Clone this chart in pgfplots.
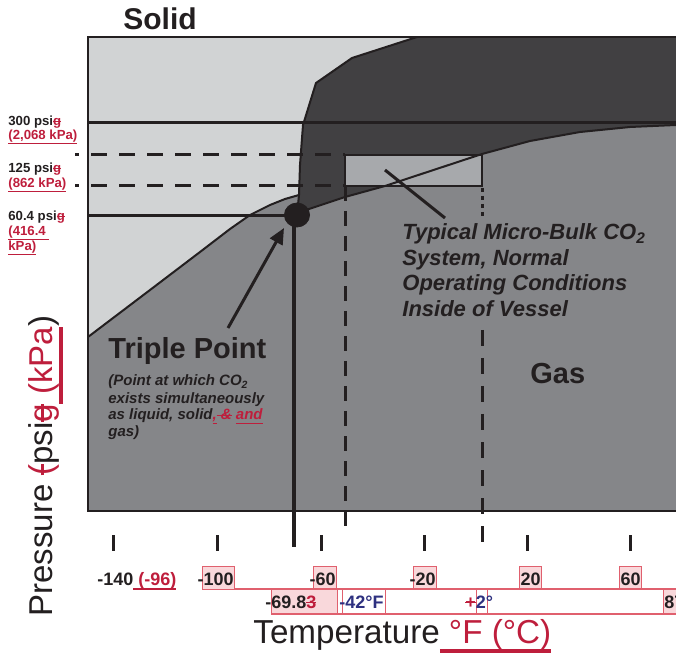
\documentclass[border=0pt]{standalone}
\usepackage{pgfplots}
\pgfplotsset{compat=1.18}
\usetikzlibrary{arrows.meta}
\usepackage{fontspec}
\setmainfont{Liberation Sans}

\definecolor{tk}{HTML}{231F20}
\definecolor{rd}{HTML}{BE1E3C}
\definecolor{nv}{HTML}{2E3180}
\definecolor{pk}{HTML}{F9D8DB}
\definecolor{pkb}{HTML}{E0606E}
\definecolor{solidc}{HTML}{D1D3D4}
\definecolor{liqc}{HTML}{414042}
\definecolor{gasc}{HTML}{858689}
\definecolor{boxc}{HTML}{A7A9AC}

% track-change marks: inserted (underlined) and deleted (struck) text
\newcommand{\ins}[1]{\textcolor{rd}{\sbox0{#1}\rlap{\usebox0}\rule[-0.3em]{\wd0}{0.11em}}}
\newcommand{\del}[1]{\textcolor{rd}{\sbox0{#1}\rlap{\usebox0}\rule[0.27em]{\wd0}{0.09em}}}

\tikzset{
  lbl/.style={anchor=base west, inner sep=0pt, text=tk},
  ln/.style={draw=tk, line width=1.5pt},
}

\begin{document}
\begin{tikzpicture}
\begin{axis}[
  scale only axis, width=338pt, height=329pt,
  xmin=0, xmax=676, ymin=0, ymax=658, y dir=reverse,
  hide axis, clip=false,
]
% regions
\addplot[fill=gasc, draw=none] coordinates {(88,37)(676,37)(676,511)(88,511)} -- cycle;
\addplot[fill=solidc, draw=none] coordinates {(88,37)(417,37)(352,58)(316,83)(303,125)(300,165)(299,195)
  (285,199)(270,205)(250,215)(230,229)(200,252)(150,290)(88,337)} -- cycle;
\addplot[fill=liqc, draw=none] coordinates {(417,37)(676,37)(676,125)(630,127)(580,132)(530,141)(482,154)(385,186)(345,197)(297,213)
  (299,195)(300,165)(303,125)(316,83)(352,58)} -- cycle;
% operating box
\addplot[fill=boxc, draw=tk, line width=1pt] coordinates {(345,155)(482,155)(482,186)(345,186)} -- cycle;
% phase boundaries
\addplot[draw=tk, line width=1pt] coordinates {(88,337)(150,290)(200,252)(230,229)(250,215)(270,205)(285,199)(299,195)};
\addplot[draw=tk, line width=1pt] coordinates {(297,213)(345,197)(385,186)(482,154)(530,141)(580,132)(630,127)(676,125)};
\addplot[draw=tk, line width=1pt] coordinates {(297,215)(299,195)(300,165)(303,125)(316,83)(352,58)(417,37)};
% frame
\addplot[draw=tk, line width=1.2pt] coordinates {(676,37)(88,37)(88,511)(676,511)};
% pressure lines
\addplot[ln] coordinates {(88,123)(676,123)};
\addplot[ln] coordinates {(88,216)(296,216)};
\addplot[ln, dash pattern=on 8pt off 6pt, dash phase=6pt] coordinates {(75,155)(345,155)};
\addplot[ln, dash pattern=on 8pt off 6pt, dash phase=6pt] coordinates {(75,186)(345,186)};
% vertical lines
\addplot[draw=tk, line width=1.8pt] coordinates {(294,215)(294,547)};
\addplot[ln, dash pattern=on 7.5pt off 5pt] coordinates {(345,186)(345,535)};
\addplot[ln, dash pattern=on 2pt off 2pt] coordinates {(482,188)(482,217)};
\addplot[ln, dash pattern=on 8pt off 6pt] coordinates {(482,330)(482,545)};
% ticks
\addplot[ln] coordinates {(113,535)(113,551)};
\addplot[ln] coordinates {(217,535)(217,551)};
\addplot[ln] coordinates {(321,535)(321,551)};
\addplot[ln] coordinates {(424,535)(424,551)};
\addplot[ln] coordinates {(527,535)(527,551)};
\addplot[ln] coordinates {(630,535)(630,551)};
% triple point and pointers
\addplot[only marks, mark=*, mark size=6pt, color=tk, mark options={xscale=1.05}] coordinates {(297,215)};
\addplot[ln, -{Triangle[length=8pt,width=7pt]}] coordinates {(228,328)(284,228)};
\addplot[ln] coordinates {(385,170)(445,218)};
% highlight boxes under tick labels
\addplot[fill=pk, draw=pkb, line width=0.5pt] coordinates {(202,566)(234,566)(234,589)(202,589)} -- cycle;
\addplot[fill=pk, draw=pkb, line width=0.5pt] coordinates {(313,566)(336,566)(336,589)(313,589)} -- cycle;
\addplot[fill=pk, draw=pkb, line width=0.5pt] coordinates {(413,566)(436,566)(436,589)(413,589)} -- cycle;
\addplot[fill=pk, draw=pkb, line width=0.5pt] coordinates {(519,566)(541,566)(541,589)(519,589)} -- cycle;
\addplot[fill=pk, draw=pkb, line width=0.5pt] coordinates {(619,566)(641,566)(641,589)(619,589)} -- cycle;
\addplot[fill=pk, draw=pkb, line width=0.5pt] coordinates {(271,589)(337,589)(337,614)(271,614)} -- cycle;
\addplot[fill=white, draw=pkb, line width=0.5pt] coordinates {(342,589)(385,589)(385,614)(342,614)} -- cycle;
\addplot[fill=white, draw=pkb, line width=0.5pt] coordinates {(476,589)(487,589)(487,614)(476,614)} -- cycle;
\addplot[fill=pk, draw=pkb, line width=0.5pt] coordinates {(663,589)(690,589)(690,614)(663,614)} -- cycle;
\addplot[draw=pkb, line width=0.6pt] coordinates {(234,589)(676,589)};
\addplot[draw=pkb, line width=0.6pt] coordinates {(271,614)(676,614)};

% region labels
\node[lbl, font=\fontsize{15}{18}\selectfont\bfseries] at (123,30) {Solid};
\node[lbl, font=\fontsize{14.5}{17}\selectfont\bfseries] at (108,358) {Triple Point};
\node[lbl, font=\fontsize{14.5}{17}\selectfont\bfseries] at (530,384) {Gas};
% operating conditions note
\node[lbl, font=\fontsize{11}{13}\selectfont\bfseries\itshape] at (402,240) {Typical Micro-Bulk CO\textsubscript{2}};
\node[lbl, font=\fontsize{11}{13}\selectfont\bfseries\itshape] at (402,266) {System, Normal};
\node[lbl, font=\fontsize{11}{13}\selectfont\bfseries\itshape] at (402,291) {Operating Conditions};
\node[lbl, font=\fontsize{11}{13}\selectfont\bfseries\itshape] at (402,317) {Inside of Vessel};
% triple point note
\node[lbl, font=\fontsize{7.5}{9}\selectfont\bfseries\itshape] at (108,386) {(Point at which CO\textsubscript{2}};
\node[lbl, font=\fontsize{7.5}{9}\selectfont\bfseries\itshape] at (108,403) {exists simultaneously};
\node[lbl, font=\fontsize{7.5}{9}\selectfont\bfseries\itshape] at (108,420) {as liquid, solid\ins{,}\del{ \&} \ins{and}};
\node[lbl, font=\fontsize{7.5}{9}\selectfont\bfseries\itshape] at (108,437) {gas)};
% pressure labels
\node[lbl, font=\fontsize{6.6}{8}\selectfont\bfseries] at (8,126) {300 psi\del{g}};
\node[lbl, font=\fontsize{6.6}{8}\selectfont\bfseries] at (8,140) {\ins{(2,068 kPa)}};
\node[lbl, font=\fontsize{6.6}{8}\selectfont\bfseries] at (8,173) {125 psi\del{g}};
\node[lbl, font=\fontsize{6.6}{8}\selectfont\bfseries] at (8,188) {\ins{(862 kPa)}};
\node[lbl, font=\fontsize{6.6}{8}\selectfont\bfseries] at (8,221) {60.4 psi\del{g}};
\node[lbl, font=\fontsize{6.6}{8}\selectfont\bfseries] at (8,236) {\ins{(416.4\ }};
\node[lbl, font=\fontsize{6.6}{8}\selectfont\bfseries] at (8,251) {\ins{kPa)}};
% temperature labels
\node[lbl, font=\fontsize{9}{10}\selectfont\bfseries] at (97,585) {-140\ins{ (-96)}};
\node[lbl, anchor=base east, font=\fontsize{9}{10}\selectfont\bfseries] at (234,585) {-100};
\node[lbl, anchor=base east, font=\fontsize{9}{10}\selectfont\bfseries] at (336,585) {-60};
\node[lbl, anchor=base east, font=\fontsize{9}{10}\selectfont\bfseries] at (436,585) {-20};
\node[lbl, anchor=base east, font=\fontsize{9}{10}\selectfont\bfseries] at (541,585) {20};
\node[lbl, anchor=base east, font=\fontsize{9}{10}\selectfont\bfseries] at (641,585) {60};
\node[lbl, font=\fontsize{9}{10}\selectfont\bfseries] at (265,608) {-69.8\del{3}};
\node[lbl, font=\fontsize{9}{10}\selectfont\bfseries, text=nv] at (339,608) {-42°F};
\node[lbl, font=\fontsize{9}{10}\selectfont\bfseries] at (465,608) {\del{+}\textcolor{nv}{2°}};
\node[lbl, font=\fontsize{9}{10}\selectfont\bfseries] at (664,608) {87};
% axis titles
\node[lbl, font=\fontsize{16.6}{18}\selectfont] at (253,643) {Temperature\ins{ °F (°C)}};
\node[lbl, rotate=90, font=\fontsize{16.5}{18}\selectfont] at (53,617) {Pressure \del{(}psi\del{g}\ins{ (kPa})};
\end{axis}
\pgfresetboundingbox
\path[use as bounding box] (current axis.south west) rectangle (current axis.north east);
\end{tikzpicture}
\end{document}
